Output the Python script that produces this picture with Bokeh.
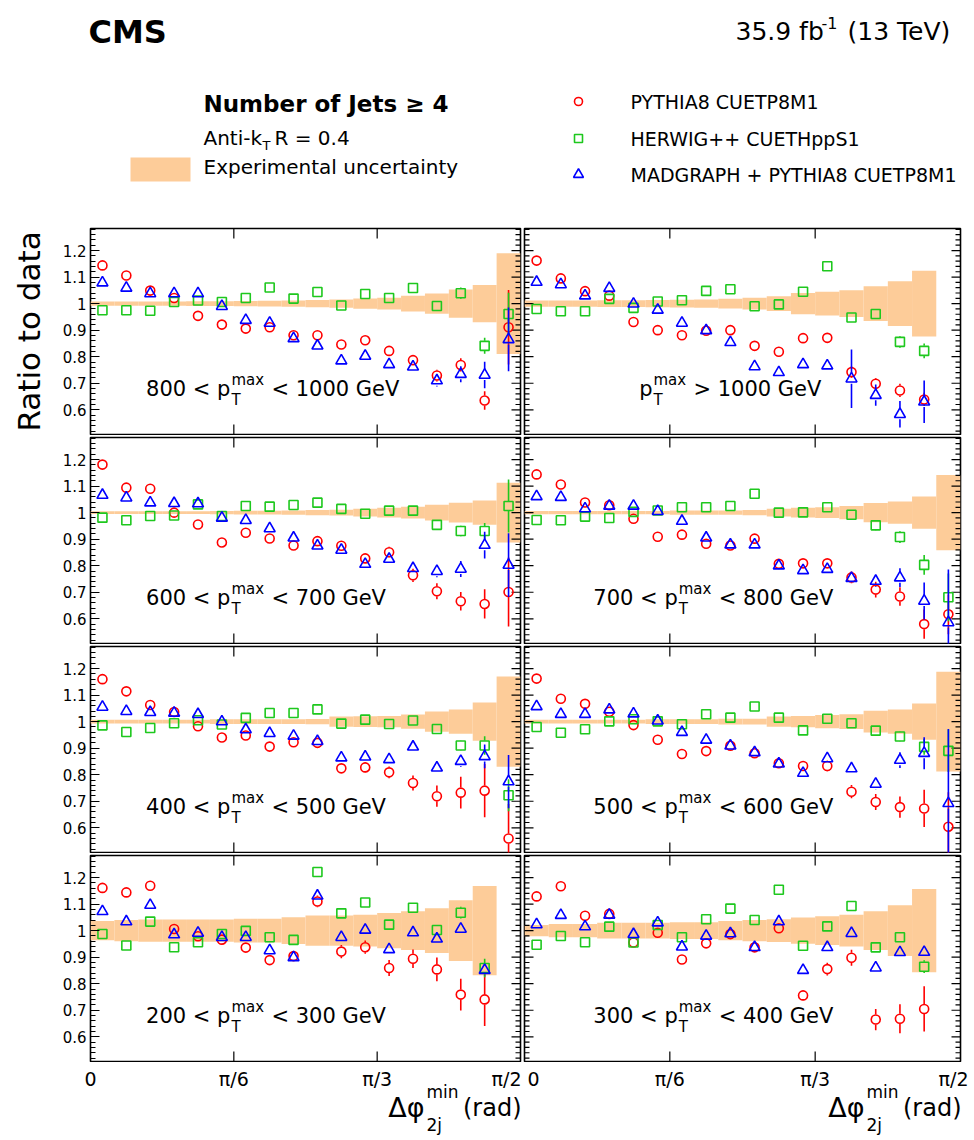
import numpy as np
from bokeh.plotting import figure
from bokeh.layouts import column, row
from bokeh.models import Range1d, LinearAxis, FixedTicker
from bokeh.core.properties import value
from bokeh.embed import file_html
from bokeh.resources import INLINE

FONT = "DejaVu Sans"
RED = "#ff0000"
GREEN = "#1ec81e"
BLUE = "#0000ff"
BAND = "#fdcc99"

# ---------------- axes / ticks ----------------
x_tick_values = [0.0, np.pi / 6, np.pi / 3, np.pi / 2]
x_tick_labels = ["0", "π/6", "π/3", "π/2"]
y_tick_values = [0.6, 0.7, 0.8, 0.9, 1.0, 1.1, 1.2]
y_tick_labels = ["0.6", "0.7", "0.8", "0.9", "1", "1.1", "1.2"]
bin_width = np.pi / 36  # 18 bins of 5 degrees up to pi/2

# ---------------- data: 800 < pT < 1000 ----------------
band_800 = [0.008, 0.008, 0.008, 0.008, 0.009, 0.009, 0.010, 0.011, 0.012, 0.014, 0.016, 0.019, 0.022, 0.030, 0.038, 0.053, 0.070, 0.190]
pythia_800 = [1.144, 1.106, 1.049, 1.021, 0.954, 0.921, 0.906, 0.911, 0.881, 0.881, 0.846, 0.862, 0.822, 0.787, 0.729, 0.769, 0.635, 0.911]
pythia_800_err = [0.005, 0.005, 0.005, 0.005, 0.005, 0.006, 0.006, 0.007, 0.008, 0.008, 0.009, 0.010, 0.012, 0.018, 0.022, 0.025, 0.035, 0.140]
herwig_800 = [0.975, 0.975, 0.973, 1.006, 1.012, 1.006, 1.021, 1.061, 1.019, 1.044, 0.993, 1.036, 1.021, 1.059, 0.991, 1.039, 0.841, 0.961]
herwig_800_err = [0.005, 0.005, 0.005, 0.005, 0.005, 0.005, 0.005, 0.006, 0.006, 0.007, 0.008, 0.009, 0.010, 0.012, 0.014, 0.022, 0.030, 0.080]
madgraph_800 = [1.079, 1.059, 1.038, 1.038, 1.038, 0.990, 0.9375, 0.927, 0.869, 0.841, 0.785, 0.8025, 0.771, 0.762, 0.710, 0.734, 0.731, 0.865]
madgraph_800_err = [0.005, 0.005, 0.005, 0.005, 0.005, 0.006, 0.006, 0.007, 0.008, 0.008, 0.009, 0.010, 0.012, 0.015, 0.022, 0.030, 0.050, 0.120]

# ---------------- pT > 1000 ----------------
band_1000 = [0.012, 0.012, 0.012, 0.013, 0.013, 0.014, 0.015, 0.016, 0.018, 0.022, 0.028, 0.040, 0.045, 0.050, 0.065, 0.084, 0.124]
pythia_1000 = [1.162, 1.095, 1.047, 1.030, 0.931, 0.900, 0.881, 0.898, 0.900, 0.841, 0.819, 0.870, 0.871, 0.742, 0.698, 0.673, 0.639]
pythia_1000_err = [0.005, 0.005, 0.005, 0.005, 0.006, 0.006, 0.007, 0.008, 0.009, 0.010, 0.011, 0.012, 0.014, 0.022, 0.022, 0.025, 0.025]
herwig_1000 = [0.980, 0.971, 0.971, 1.018, 0.984, 1.008, 1.013, 1.048, 1.054, 0.990, 0.997, 1.045, 1.141, 0.948, 0.961, 0.856, 0.822]
herwig_1000_err = [0.005, 0.005, 0.005, 0.005, 0.005, 0.005, 0.006, 0.006, 0.007, 0.008, 0.009, 0.010, 0.011, 0.012, 0.014, 0.022, 0.028]
madgraph_1000 = [1.081, 1.072, 1.030, 1.058, 0.999, 0.976, 0.927, 0.899, 0.854, 0.763, 0.741, 0.771, 0.766, 0.717, 0.655, 0.583, 0.630]
madgraph_1000_err = [0.005, 0.005, 0.005, 0.005, 0.006, 0.006, 0.007, 0.008, 0.009, 0.010, 0.011, 0.012, 0.014, 0.110, 0.040, 0.050, 0.080]

# ---------------- 600 < pT < 700 ----------------
band_600 = [0.005, 0.005, 0.005, 0.005, 0.005, 0.006, 0.007, 0.007, 0.008, 0.010, 0.011, 0.015, 0.018, 0.022, 0.030, 0.037, 0.046, 0.113]
pythia_600 = [1.181, 1.094, 1.090, 1.000, 0.955, 0.8875, 0.924, 0.9025, 0.876, 0.8925, 0.875, 0.8275, 0.851, 0.764, 0.704, 0.666, 0.656, 0.701]
pythia_600_err = [0.005, 0.005, 0.005, 0.005, 0.005, 0.006, 0.006, 0.007, 0.008, 0.009, 0.010, 0.015, 0.020, 0.025, 0.030, 0.035, 0.055, 0.130]
herwig_600 = [0.981, 0.971, 0.9875, 0.989, 1.031, 0.9875, 1.025, 1.0225, 1.029, 1.0375, 1.014, 0.996, 1.0075, 1.0075, 0.954, 0.931, 0.931, 1.025]
herwig_600_err = [0.005, 0.005, 0.005, 0.005, 0.005, 0.005, 0.005, 0.006, 0.006, 0.007, 0.008, 0.009, 0.010, 0.010, 0.012, 0.020, 0.030, 0.100]
madgraph_600 = [1.066, 1.056, 1.0375, 1.035, 1.034, 0.980, 0.971, 0.940, 0.905, 0.875, 0.859, 0.806, 0.825, 0.790, 0.779, 0.7875, 0.8775, 0.8025]
madgraph_600_err = [0.005, 0.005, 0.005, 0.005, 0.005, 0.006, 0.006, 0.007, 0.008, 0.009, 0.010, 0.011, 0.012, 0.014, 0.022, 0.030, 0.050, 0.120]

# ---------------- 700 < pT < 800 ----------------
band_700 = [0.006, 0.006, 0.006, 0.006, 0.006, 0.006, 0.008, 0.008, 0.008, 0.010, 0.015, 0.018, 0.020, 0.025, 0.036, 0.042, 0.061, 0.142]
pythia_700 = [1.144, 1.106, 1.038, 1.028, 0.977, 0.909, 0.917, 0.883, 0.876, 0.902, 0.807, 0.809, 0.809, 0.756, 0.710, 0.684, 0.580, 0.617]
pythia_700_err = [0.005, 0.005, 0.005, 0.005, 0.005, 0.006, 0.006, 0.007, 0.008, 0.012, 0.015, 0.018, 0.018, 0.022, 0.030, 0.035, 0.055, 0.075]
herwig_700 = [0.972, 0.971, 0.985, 0.980, 1.003, 1.008, 1.020, 1.020, 1.025, 1.071, 1.000, 1.001, 1.020, 0.992, 0.952, 0.908, 0.803, 0.681]
herwig_700_err = [0.005, 0.005, 0.005, 0.005, 0.005, 0.005, 0.005, 0.006, 0.006, 0.007, 0.008, 0.009, 0.010, 0.012, 0.020, 0.022, 0.037, 0.090]
madgraph_700 = [1.061, 1.058, 1.015, 1.025, 1.025, 1.005, 0.968, 0.905, 0.879, 0.879, 0.800, 0.782, 0.787, 0.753, 0.742, 0.755, 0.667, 0.586]
madgraph_700_err = [0.005, 0.005, 0.005, 0.005, 0.005, 0.006, 0.006, 0.007, 0.008, 0.009, 0.010, 0.011, 0.012, 0.014, 0.022, 0.035, 0.070, 0.200]

# ---------------- 400 < pT < 500 ----------------
band_400 = [0.007, 0.007, 0.007, 0.007, 0.007, 0.009, 0.009, 0.009, 0.009, 0.010, 0.019, 0.020, 0.021, 0.027, 0.038, 0.046, 0.072, 0.170]
pythia_400 = [1.160, 1.114, 1.0625, 1.036, 0.9825, 0.940, 0.9475, 0.906, 0.9225, 0.920, 0.824, 0.8275, 0.809, 0.769, 0.719, 0.7325, 0.740, 0.560]
pythia_400_err = [0.005, 0.005, 0.005, 0.005, 0.006, 0.006, 0.007, 0.008, 0.010, 0.012, 0.018, 0.020, 0.022, 0.028, 0.040, 0.060, 0.100, 0.130]
herwig_400 = [0.986, 0.961, 0.976, 0.994, 1.005, 0.989, 1.014, 1.0325, 1.0325, 1.046, 0.9925, 1.0075, 0.991, 1.004, 0.9725, 0.910, 0.910, 0.7225]
herwig_400_err = [0.005, 0.005, 0.005, 0.005, 0.005, 0.005, 0.005, 0.006, 0.006, 0.007, 0.008, 0.009, 0.010, 0.012, 0.014, 0.020, 0.035, 0.060]
madgraph_400 = [1.055, 1.039, 1.035, 1.0325, 1.0275, 1.000, 0.970, 0.956, 0.946, 0.926, 0.864, 0.8675, 0.8575, 0.905, 0.826, 0.851, 0.869, 0.774]
madgraph_400_err = [0.005, 0.005, 0.005, 0.005, 0.005, 0.006, 0.006, 0.007, 0.008, 0.009, 0.010, 0.011, 0.012, 0.014, 0.016, 0.022, 0.045, 0.100]

# ---------------- 500 < pT < 600 ----------------
band_500 = [0.007, 0.007, 0.007, 0.007, 0.007, 0.009, 0.009, 0.009, 0.011, 0.011, 0.019, 0.021, 0.025, 0.028, 0.041, 0.046, 0.068, 0.188]
pythia_500 = [1.162, 1.086, 1.067, 1.037, 0.987, 0.932, 0.878, 0.889, 0.909, 0.881, 0.843, 0.833, 0.833, 0.736, 0.697, 0.678, 0.673, 0.604]
pythia_500_err = [0.005, 0.005, 0.005, 0.005, 0.006, 0.006, 0.007, 0.008, 0.009, 0.010, 0.014, 0.016, 0.020, 0.025, 0.030, 0.040, 0.070, 0.130]
herwig_500 = [0.980, 0.958, 0.971, 1.001, 1.009, 1.001, 0.990, 1.028, 1.015, 1.057, 1.015, 0.967, 1.011, 0.994, 0.966, 0.944, 0.905, 0.890]
herwig_500_err = [0.005, 0.005, 0.005, 0.005, 0.005, 0.005, 0.005, 0.006, 0.006, 0.007, 0.008, 0.009, 0.010, 0.012, 0.014, 0.020, 0.030, 0.080]
madgraph_500 = [1.057, 1.028, 1.028, 1.045, 1.030, 1.003, 0.960, 0.931, 0.909, 0.884, 0.841, 0.806, 0.861, 0.823, 0.765, 0.855, 0.881, 0.692]
madgraph_500_err = [0.005, 0.005, 0.005, 0.005, 0.005, 0.006, 0.006, 0.007, 0.008, 0.009, 0.010, 0.011, 0.012, 0.014, 0.020, 0.030, 0.060, 0.280]

# ---------------- 200 < pT < 300 ----------------
band_200 = [0.036, 0.040, 0.042, 0.042, 0.042, 0.042, 0.045, 0.045, 0.050, 0.057, 0.057, 0.060, 0.066, 0.073, 0.084, 0.114, 0.168]
pythia_200 = [1.161, 1.144, 1.169, 1.006, 0.979, 0.966, 0.936, 0.889, 0.904, 1.110, 0.921, 0.9375, 0.859, 0.894, 0.854, 0.759, 0.741]
pythia_200_err = [0.005, 0.005, 0.006, 0.006, 0.007, 0.008, 0.009, 0.012, 0.018, 0.022, 0.025, 0.025, 0.030, 0.035, 0.045, 0.060, 0.100]
herwig_200 = [0.9875, 0.944, 1.034, 0.9375, 0.956, 0.9875, 0.999, 0.975, 0.965, 1.221, 1.065, 1.106, 1.0225, 1.086, 1.0025, 1.0675, 0.859]
herwig_200_err = [0.005, 0.005, 0.005, 0.005, 0.005, 0.005, 0.005, 0.006, 0.006, 0.007, 0.008, 0.009, 0.010, 0.012, 0.014, 0.022, 0.035]
madgraph_200 = [1.0725, 1.034, 1.096, 0.985, 0.991, 0.975, 0.975, 0.925, 0.899, 1.131, 0.975, 1.0025, 0.929, 0.9925, 0.969, 1.006, 0.851]
madgraph_200_err = [0.005, 0.005, 0.005, 0.005, 0.005, 0.006, 0.006, 0.007, 0.008, 0.010, 0.010, 0.011, 0.012, 0.014, 0.015, 0.016, 0.020]

# ---------------- 300 < pT < 400 ----------------
band_300 = [0.021, 0.025, 0.025, 0.030, 0.030, 0.030, 0.032, 0.032, 0.036, 0.040, 0.043, 0.049, 0.054, 0.060, 0.073, 0.096, 0.157]
pythia_300 = [1.129, 1.167, 1.056, 1.063, 0.955, 0.992, 0.891, 0.952, 0.987, 0.937, 1.009, 0.756, 0.855, 0.898, 0.665, 0.668, 0.705]
pythia_300_err = [0.005, 0.005, 0.006, 0.006, 0.007, 0.008, 0.009, 0.010, 0.012, 0.014, 0.016, 0.020, 0.024, 0.030, 0.040, 0.055, 0.085]
herwig_300 = [0.947, 0.980, 0.956, 1.015, 0.955, 1.021, 0.975, 1.043, 1.083, 1.040, 1.154, 0.943, 1.016, 1.093, 0.937, 0.975, 0.864]
herwig_300_err = [0.005, 0.005, 0.005, 0.005, 0.005, 0.005, 0.005, 0.006, 0.006, 0.007, 0.008, 0.009, 0.010, 0.012, 0.014, 0.016, 0.024]
madgraph_300 = [1.023, 1.058, 1.015, 1.059, 0.986, 1.030, 0.939, 0.980, 0.989, 0.937, 1.034, 0.851, 0.937, 0.990, 0.860, 0.918, 0.919]
madgraph_300_err = [0.005, 0.005, 0.005, 0.005, 0.005, 0.006, 0.006, 0.007, 0.008, 0.009, 0.010, 0.011, 0.012, 0.014, 0.015, 0.016, 0.018]

# panel range labels (prefix before p_T, suffix after)
label_pre = {"800": "800 < p", "1000": "p", "600": "600 < p", "700": "700 < p",
             "400": "400 < p", "500": "500 < p", "200": "200 < p", "300": "300 < p"}
label_post = {"800": "< 1000 GeV", "1000": "> 1000 GeV", "600": "< 700 GeV", "700": "< 800 GeV",
              "400": "< 500 GeV", "500": "< 600 GeV", "200": "< 300 GeV", "300": "< 400 GeV"}

series_names = ["PYTHIA8 CUETP8M1", "HERWIG++ CUETHppS1", "MADGRAPH + PYTHIA8 CUETP8M1"]

panels = {
    "800": (band_800, pythia_800, pythia_800_err, herwig_800, herwig_800_err, madgraph_800, madgraph_800_err),
    "1000": (band_1000, pythia_1000, pythia_1000_err, herwig_1000, herwig_1000_err, madgraph_1000, madgraph_1000_err),
    "600": (band_600, pythia_600, pythia_600_err, herwig_600, herwig_600_err, madgraph_600, madgraph_600_err),
    "700": (band_700, pythia_700, pythia_700_err, herwig_700, herwig_700_err, madgraph_700, madgraph_700_err),
    "400": (band_400, pythia_400, pythia_400_err, herwig_400, herwig_400_err, madgraph_400, madgraph_400_err),
    "500": (band_500, pythia_500, pythia_500_err, herwig_500, herwig_500_err, madgraph_500, madgraph_500_err),
    "200": (band_200, pythia_200, pythia_200_err, herwig_200, herwig_200_err, madgraph_200, madgraph_200_err),
    "300": (band_300, pythia_300, pythia_300_err, herwig_300, herwig_300_err, madgraph_300, madgraph_300_err),
}
layout_rows = [("800", "1000"), ("600", "700"), ("400", "500"), ("200", "300")]

# ---------------- geometry ----------------
Y_START, Y_END = 0.507, 1.283
FRAME_H = 206
COLS = [dict(bl=90, fw=430, br=2), dict(bl=2, fw=436, br=10)]
GAP = 0.019          # marker radius in data units (error bar gap)
LABEL_Y = 0.68
label_anchor = {"800": 0.511, "600": 0.511, "400": 0.511, "200": 0.511,
                "1000": 0.461, "700": 0.552, "500": 0.552, "300": 0.552}

y_minor = [round(v, 2) for v in np.arange(0.52, 1.281, 0.02) if min(abs(v - t) for t in y_tick_values) > 1e-6]
X_END = x_tick_values[-1]
x_ranges = [Range1d(0, X_END), Range1d(0, X_END)]


def draw_frame_ticks(p, col):
    edges = [X_END] if col == 0 else [0.0, X_END]
    for ex in edges:
        p.scatter(x=[ex] * len(y_tick_values), y=y_tick_values, marker="dash", size=18,
                  line_color="black", line_width=1.2)
        p.scatter(x=[ex] * len(y_minor), y=y_minor, marker="dash", size=10,
                  line_color="black", line_width=1.2)
    for ey in (Y_START, Y_END):
        xt = x_tick_values[1:3]
        p.scatter(x=xt, y=[ey] * len(xt), marker="dash", angle=np.pi / 2, size=20,
                  line_color="black", line_width=1.2)


def make_panel(key, col, ylabel=None):
    c = COLS[col]
    p = figure(x_range=x_ranges[col], y_range=Range1d(Y_START, Y_END),
               frame_width=c["fw"], frame_height=FRAME_H,
               min_border_left=c["bl"], min_border_right=c["br"],
               min_border_top=2, min_border_bottom=1,
               x_axis_type=None, y_axis_type=None,
               toolbar_location=None, output_backend="svg")
    p.outline_line_color = "black"
    p.outline_line_width = 1.6
    p.background_fill_color = "white"
    p.border_fill_color = "white"

    if col == 0:
        ax = LinearAxis(ticker=FixedTicker(ticks=y_tick_values, minor_ticks=y_minor))
        ax.major_tick_in = 9
        ax.major_tick_out = 0
        ax.minor_tick_in = 5
        ax.minor_tick_out = 0
        ax.major_tick_line_width = 1.2
        ax.minor_tick_line_width = 1.2
        ax.major_tick_line_color = "black"
        ax.minor_tick_line_color = "black"
        ax.axis_line_color = None
        ax.major_label_overrides = {t: s for t, s in zip(y_tick_values, y_tick_labels)}
        ax.major_label_text_font = FONT
        ax.major_label_text_font_size = "15px"
        ax.major_label_text_color = "black"
        ax.major_label_standoff = 4
        if ylabel:
            ax.axis_label = ylabel
            ax.axis_label_text_font = FONT
            ax.axis_label_text_font_size = "31px"
            ax.axis_label_text_font_style = "normal"
            ax.axis_label_text_color = "black"
            ax.axis_label_standoff = 13
        p.add_layout(ax, "left")

    band, py, pye, hw, hwe, mg, mge = panels[key]
    n = len(band)
    edges = np.arange(n) * bin_width
    centers = edges + bin_width / 2
    b = np.array(band)
    p.quad(left=edges, right=edges + bin_width, bottom=1 - b, top=1 + b,
           fill_color=BAND, line_color=None)
    draw_frame_ticks(p, col)

    for vals, errs, color, marker, size in ((py, pye, RED, "circle", 9),
                                            (hw, hwe, GREEN, "square", 9),
                                            (mg, mge, BLUE, "triangle", 11)):
        v = np.array(vals)
        e = np.array(errs)
        m = e > GAP
        if m.any():
            p.segment(x0=centers[m], y0=v[m] + GAP, x1=centers[m], y1=v[m] + e[m],
                      line_color=color, line_width=1.6)
            p.segment(x0=centers[m], y0=v[m] - GAP, x1=centers[m], y1=v[m] - e[m],
                      line_color=color, line_width=1.6)
        p.scatter(x=centers, y=v, marker=marker, size=size, fill_color=None,
                  line_color=color, line_width=1.6)

    xa = label_anchor[key]
    tf = value(FONT)
    p.text(x=[xa], y=[LABEL_Y], text=[label_pre[key]], text_align="right", text_baseline="middle",
           text_font=tf, text_font_size=value("21px"), text_color="black")
    p.text(x=[xa], y=[LABEL_Y], text=["max"], text_align="left", text_baseline="middle",
           x_offset=1, y_offset=-9, text_font=tf, text_font_size=value("15px"), text_color="black")
    p.text(x=[xa], y=[LABEL_Y], text=["T"], text_align="left", text_baseline="middle",
           x_offset=1, y_offset=11, text_font=tf, text_font_size=value("15px"), text_color="black")
    p.text(x=[xa], y=[LABEL_Y], text=[label_post[key]], text_align="left", text_baseline="middle",
           x_offset=41, text_font=tf, text_font_size=value("21px"), text_color="black")
    return p


FOOT_H = 77


def make_footer(col):
    c = COLS[col]
    s = X_END / c["fw"]  # data units per pixel
    total = c["bl"] + c["fw"] + c["br"]
    f = figure(x_range=Range1d(-c["bl"] * s, X_END + c["br"] * s), y_range=Range1d(FOOT_H, 0),
               frame_width=total, frame_height=FOOT_H, min_border=0,
               x_axis_type=None, y_axis_type=None,
               toolbar_location=None, output_backend="svg")
    f.outline_line_color = None
    tf = value(FONT)
    for i, (t, lab) in enumerate(zip(x_tick_values, x_tick_labels)):
        align, off = "center", 0
        if col == 0 and i == 3:
            align, off = "right", 1
        if col == 1 and i == 0:
            align, off = "left", 3
        if col == 1 and i == 3:
            align, off = "right", 8
        f.text(x=[t], y=[16], text=[lab], text_align=align, x_offset=off, text_baseline="middle",
               text_font=tf, text_font_size=value("19px"), text_color="black")
    f.text(x=[X_END], y=[45], text=["(rad)"], text_align="right", x_offset=1, text_baseline="middle",
           text_font=tf, text_font_size=value("24px"), text_color="black")
    f.text(x=[X_END], y=[29], text=["min"], text_align="left", x_offset=-94, text_baseline="middle",
           text_font=tf, text_font_size=value("17px"), text_color="black")
    f.text(x=[X_END], y=[62], text=["2j"], text_align="left", x_offset=-94, text_baseline="middle",
           text_font=tf, text_font_size=value("17px"), text_color="black")
    f.text(x=[X_END], y=[45], text=["Δφ"], text_align="right", x_offset=-96, text_baseline="middle",
           text_font=tf, text_font_size=value("27px"), text_color="black")
    return f


# ---------------- header ----------------
HW = sum(COLS[0].values()) + sum(COLS[1].values())
HH = 226
h = figure(x_range=Range1d(0, HW), y_range=Range1d(HH, 0), frame_width=HW, frame_height=HH,
           min_border=0, x_axis_type=None, y_axis_type=None,
           toolbar_location=None, output_backend="svg")
h.outline_line_color = None
tf = value(FONT)
h.text(x=[88], y=[31], text=["CMS"], text_font=tf, text_font_size=value("32px"), text_font_style="bold",
       text_baseline="middle", text_color="black")
h.text(x=[735], y=[31], text=["35.9 fb"], text_font=tf, text_font_size=value("25px"),
       text_baseline="middle", text_color="black")
h.text(x=[821], y=[22], text=["-1"], text_font=tf, text_font_size=value("16px"),
       text_baseline="middle", text_color="black")
h.text(x=[847], y=[31], text=["(13 TeV)"], text_font=tf, text_font_size=value("25px"),
       text_baseline="middle", text_color="black")

h.text(x=[203], y=[103], text=["Number of Jets ≥ 4"], text_font=tf, text_font_size=value("23px"),
       text_font_style="bold", text_baseline="middle", text_color="black")
h.text(x=[203], y=[137], text=["Anti-k"], text_font=tf, text_font_size=value("20px"),
       text_baseline="middle", text_color="black")
h.text(x=[262], y=[145], text=["T"], text_font=tf, text_font_size=value("13px"),
       text_baseline="middle", text_color="black")
h.text(x=[274], y=[137], text=["R = 0.4"], text_font=tf, text_font_size=value("20px"),
       text_baseline="middle", text_color="black")
h.quad(left=[130], right=[190], top=[157], bottom=[181], fill_color=BAND, line_color=None)
h.text(x=[203], y=[166], text=["Experimental uncertainty"], text_font=tf, text_font_size=value("20px"),
       text_baseline="middle", text_color="black")

leg_y = [101, 138, 174]
for name, yy, color, marker, size in zip(series_names, leg_y, [RED, GREEN, BLUE],
                                          ["circle", "square", "triangle"], [8, 8, 10]):
    h.scatter(x=[578], y=[yy], marker=marker, size=size, fill_color=None, line_color=color, line_width=1.6)
    h.text(x=[630], y=[yy], text=[name], text_font=tf, text_font_size=value("19px"),
           text_baseline="middle", text_color="black")

# ---------------- assemble ----------------
rows = [h]
for i, (kl, kr) in enumerate(layout_rows):
    pl = make_panel(kl, 0, ylabel="Ratio to data" if i == 0 else None)
    pr = make_panel(kr, 1)
    rows.append(row(pl, pr, spacing=0))
rows.append(row(make_footer(0), make_footer(1), spacing=0))
layout = column(*rows, spacing=0)

open("out.html", "w").write(file_html(layout, INLINE))
